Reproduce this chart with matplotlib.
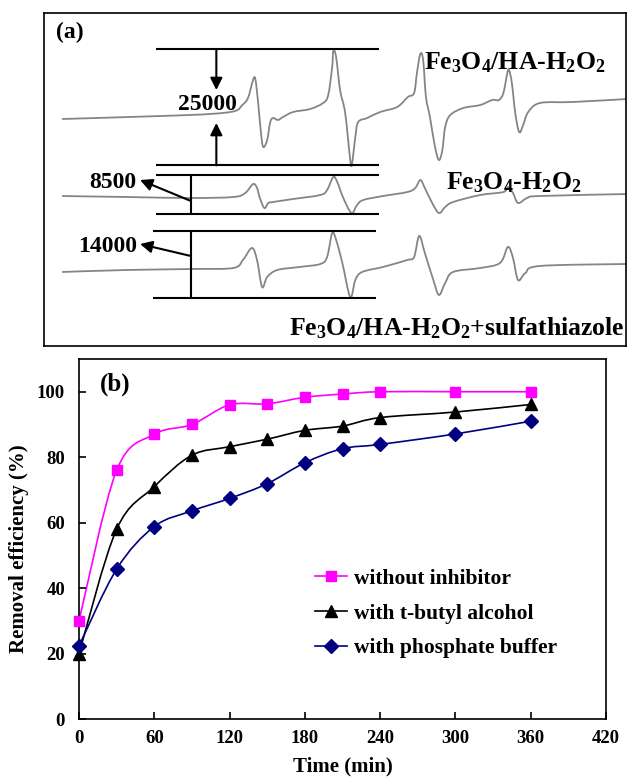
import numpy as np
import matplotlib
matplotlib.use("Agg")
import matplotlib.pyplot as plt
from matplotlib.path import Path
from matplotlib.patches import PathPatch
from matplotlib.lines import Line2D

plt.rcParams["font.family"] = ["Liberation Serif", "DejaVu Serif"]
plt.rcParams["font.weight"] = "bold"
plt.rcParams["axes.labelweight"] = "bold"
plt.rcParams["mathtext.fontset"] = "custom"
plt.rcParams["mathtext.rm"] = "Liberation Serif:bold"
plt.rcParams["mathtext.bf"] = "Liberation Serif:bold"
plt.rcParams["mathtext.it"] = "Liberation Serif:bold:italic"
plt.rcParams["mathtext.default"] = "bf"

# -----------------------------
# (a) EPR spectra (DMPO adducts)
# field in G, intensity in counts relative to each trace's start
# -----------------------------
field_ha = [3470.0, 3487.4, 3496.2, 3500.6, 3501.9, 3502.9, 3503.8, 3504.2, 3504.7, 3505.2,
            3505.6, 3506.3, 3506.8, 3507.3, 3508.2, 3509.1, 3510.9, 3513.9, 3516.2, 3517.1,
            3517.8, 3518.0, 3518.5, 3519.2, 3520.1, 3521.0, 3521.3, 3521.9, 3522.4, 3524.0,
            3526.3, 3529.3, 3531.2, 3532.3, 3532.8, 3533.4, 3533.9, 3534.4, 3535.1, 3536.0,
            3536.7, 3537.3, 3537.8, 3538.7, 3541.0, 3544.0, 3546.1, 3547.3, 3548.1, 3548.8,
            3549.1, 3549.6, 3550.2, 3550.9, 3551.6, 3552.5, 3554.6, 3560.4, 3570.0]
signal_ha = [0, 660, 1110, 1770, 3090, 4640, 8620, 8840, 3540, -3090,
             -6190, -4640, -880, 220, -220, 440, 1550, 2210, 3540, 5300,
             11490, 15030, 13700, 6410, 1330, -9060, -9950, -3980, -660, 220,
             1550, 2650, 4860, 5750, 10170, 14370, 13040, 4860, 440, -6190,
             -9060, -6850, -1770, 880, 2430, 3090, 4200, 4200, 5750, 10170,
             10830, 7960, 1330, -2870, -1330, 1550, 3540, 3760, 4420]

field_bare = [3470.0, 3481.5, 3492.7, 3500.3, 3502.4, 3503.8, 3504.5, 3505.0, 3505.8, 3506.5,
              3507.3, 3510.9, 3515.7, 3516.9, 3518.0, 3518.7, 3519.7, 3521.2, 3522.2, 3523.3,
              3526.8, 3531.1, 3532.5, 3533.4, 3534.2, 3535.5, 3536.7, 3537.8, 3539.2, 3544.0,
              3548.1, 3548.9, 3549.8, 3550.7, 3552.3, 3554.6, 3570.0]
signal_bare = [0, -220, -440, -220, 660, 2650, 1770, -440, -2650, -1550,
               -1330, -660, 220, 1330, 4200, 3090, -220, -3760, -1990, -880,
               0, 880, 1770, 3540, 1770, -1550, -3760, -2430, -1330, 220,
               880, 1990, 660, -1550, -440, 0, 440]

field_sulfa = [3470.0, 3481.5, 3493.2, 3500.3, 3502.0, 3503.6, 3504.5, 3505.4, 3506.3, 3508.1,
               3512.1, 3515.7, 3516.9, 3517.8, 3518.5, 3519.6, 3521.0, 3521.9, 3523.1, 3526.8,
               3531.1, 3532.3, 3533.2, 3534.2, 3535.7, 3536.7, 3537.8, 3539.2, 3544.0, 3547.5,
               3548.9, 3549.8, 3550.7, 3552.0, 3554.6, 3570.0]
signal_sulfa = [0, 440, 660, 880, 2650, 5300, 2650, -3320, -1110, 440,
                1110, 1770, 3320, 8620, 7070, 1990, -5530, -1770, 0, 1110,
                2650, 3320, 7960, 4200, -1770, -5080, -2430, 0, 880, 1990,
                5530, 3090, -1770, -220, 1330, 1770]

peak_to_peak = [25000, 8500, 14000]

# -----------------------------
# (b) removal efficiency
# -----------------------------
time_min = [0, 30, 60, 90, 120, 150, 180, 210, 240, 300, 360]
without_inhibitor = [30, 76, 87, 90, 96, 96.3, 98.3, 99.3, 100, 100, 100]
t_butyl = [20, 58, 71, 80.6, 83.2, 85.5, 88.2, 89.5, 92.1, 93.8, 96.1]
phosphate = [22.3, 45.8, 58.8, 63.6, 67.4, 71.9, 78.3, 82.6, 83.9, 87.1, 91]


def smooth_path(x, y):
    # Catmull-Rom style bezier, like the spreadsheet "smoothed line"
    pts = np.column_stack([x, y]).astype(float)
    n = len(pts)
    verts = [pts[0]]
    codes = [Path.MOVETO]
    for i in range(n - 1):
        p0 = pts[i - 1] if i > 0 else pts[i]
        p1, p2 = pts[i], pts[i + 1]
        p3 = pts[i + 2] if i + 2 < n else pts[i + 1]
        verts += [p1 + (p2 - p0) / 6, p2 - (p3 - p1) / 6, p2]
        codes += [Path.CURVE4] * 3
    return Path(verts, codes)


fig = plt.figure(figsize=(6.27, 7.78), dpi=100)

# ---- panel (a)
ax_a = fig.add_axes([44 / 627, 432 / 778, 582 / 627, 333 / 778])
ax_a.set_xlim(3466.8, 3569.8)
ax_a.set_ylim(-50170, 23430)
ax_a.set_xticks([])
ax_a.set_yticks([])
for s in ax_a.spines.values():
    s.set_linewidth(1.2)

offsets = [0, -17020, -33810]
traces = [(field_ha, signal_ha), (field_bare, signal_bare), (field_sulfa, signal_sulfa)]
for (f, sig), off in zip(traces, offsets):
    ax_a.add_patch(PathPatch(smooth_path(f, np.array(sig) + off), fill=False,
                             edgecolor="#858585", lw=1.3))

# brackets marking peak-to-peak height of each trace
bracket_x = [(3486.6, 3526.1), (3486.6, 3526.1), (3486.1, 3525.6)]
lims = []
for (f, sig), off, bx in zip(traces, offsets, bracket_x):
    top, bot = max(sig) + off + 400, min(sig) + off - 300
    lims.append((top, bot))
    ax_a.hlines([top, bot], bx[0], bx[1], color="black", lw=1.5)

arrow = dict(arrowstyle="-|>", color="black", lw=1.5, mutation_scale=18,
             shrinkA=0, shrinkB=0)
ax_a.annotate("", xy=(3497.3, 6400), xytext=(3497.3, lims[0][0]), arrowprops=arrow)
ax_a.annotate("", xy=(3497.3, -880), xytext=(3497.3, lims[0][1]), arrowprops=arrow)
ax_a.text(3495.8, 3100, f"{peak_to_peak[0]}", ha="center", va="center", fontsize=17)

for k, (tail_y, tip_y) in zip([1, 2], [(-18120, -13480), (-30280, -27630)]):
    ax_a.vlines(3492.8, lims[k][1], lims[k][0], color="black", lw=1.5)
    ax_a.annotate("", xy=(3483.8, tip_y), xytext=(3492.8, tail_y), arrowprops=arrow)
    ax_a.text(3483.2, tip_y - 500, f"{peak_to_peak[k]}", ha="right", va="center", fontsize=17)

ax_a.text(0.021, 0.943, "(a)", transform=ax_a.transAxes, ha="left", va="center", fontsize=17)
ax_a.text(0.653, 0.85, "Fe$_3$O$_4$/HA-H$_2$O$_2$", transform=ax_a.transAxes,
          ha="left", va="center", fontsize=18.5)
ax_a.text(0.691, 0.49, "Fe$_3$O$_4$-H$_2$O$_2$", transform=ax_a.transAxes,
          ha="left", va="center", fontsize=18.5)
ax_a.text(0.997, 0.054, "Fe$_3$O$_4$/HA-H$_2$O$_2$+sulfathiazole", transform=ax_a.transAxes,
          ha="right", va="center", fontsize=18.5)

# ---- panel (b)
ax = fig.add_axes([79 / 627, 59 / 778, 527 / 627, 360 / 778])
series = [
    (without_inhibitor, "#ff00ff", "s", 7.5, "without inhibitor"),
    (t_butyl, "black", "^", 8.5, "with t-butyl alcohol"),
    (phosphate, "#000080", "D", 7, "with phosphate buffer"),
]
handles = []
for y, c, m, ms, lab in series:
    ax.add_patch(PathPatch(smooth_path(time_min, y), fill=False, edgecolor=c, lw=1.2))
    ax.plot(time_min, y, ls="none", marker=m, ms=ms, color=c, clip_on=False, zorder=3)
    handles.append(Line2D([], [], color=c, marker=m, ms=ms, lw=1.2, label=lab))

ax.set_xlim(0, 420)
ax.set_ylim(0, 110)
ax.set_xticks(range(0, 421, 60))
ax.set_yticks(range(0, 101, 20))
ax.tick_params(direction="in", length=5, width=1.2, labelsize=13.5)
ax.tick_params(axis="y", pad=10)
ax.tick_params(axis="x", pad=8)
for s in ax.spines.values():
    s.set_linewidth(1.2)
ax.set_xlabel("Time (min)", fontsize=15, labelpad=7)
ax.set_ylabel("Removal efficiency (%)", fontsize=15)
ax.yaxis.set_label_coords(-0.095, 0.472)
ax.text(0.04, 0.93, "(b)", transform=ax.transAxes, ha="left", va="center", fontsize=18)

ax.legend(handles=handles, loc="center left", bbox_to_anchor=(0.448, 0.293),
          frameon=False, fontsize=15.5, handlelength=1.5, handletextpad=0.3,
          labelspacing=0.68, borderpad=0, borderaxespad=0)

fig.savefig("out.png", dpi=100)
